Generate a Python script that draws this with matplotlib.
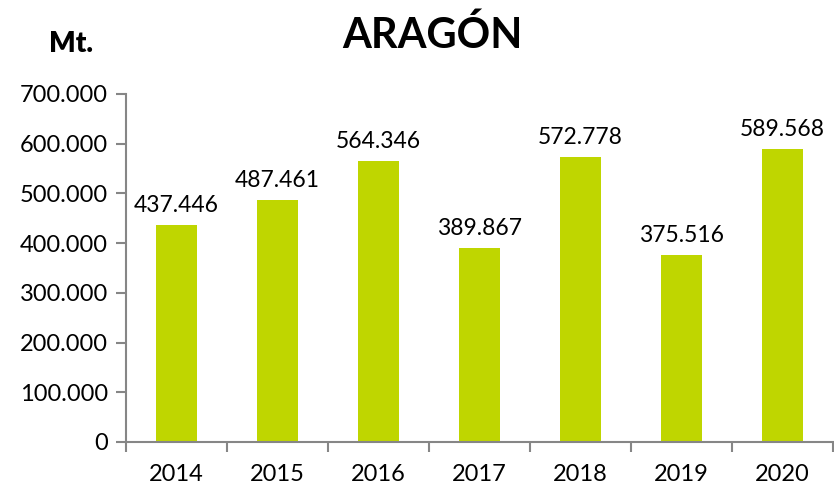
import matplotlib.pyplot as plt
from matplotlib.ticker import FuncFormatter, FixedLocator

years = ['2014', '2015', '2016', '2017', '2018', '2019', '2020']
values = [437446, 487461, 564346, 389867, 572778, 375516, 589568]

plt.rcParams['font.family'] = ['Lato', 'DejaVu Sans']

def fmt(v):
    return '{:,.0f}'.format(v).replace(',', '.')

fig = plt.figure(figsize=(8.34, 4.91), dpi=100)
ax = fig.add_axes([126/834, 1-442/491, (833-126)/834, (442-94)/491])

x = range(len(years))
ax.bar(x, values, width=0.4, color='#BFD600')
for xi, v in zip(x, values):
    ax.text(xi, v + 18000, fmt(v), ha='center', va='bottom', fontsize=16.5)

ax.set_xlim(-0.5, len(years) - 0.5)
ax.set_ylim(0, 700000)
ax.set_yticks(range(0, 700001, 100000))
ax.yaxis.set_major_formatter(FuncFormatter(lambda v, p: fmt(v)))
ax.set_xticks(list(x))
ax.set_xticklabels(years)
ax.xaxis.set_minor_locator(FixedLocator([i - 0.5 for i in range(len(years) + 1)]))
ax.tick_params(axis='x', which='major', length=0, pad=16, labelsize=17)
ax.tick_params(axis='x', which='minor', length=7, color='#868686', width=1.5)
ax.tick_params(axis='y', length=7, color='#868686', width=1.5, labelsize=17, pad=6)

for s in ['top', 'right']:
    ax.spines[s].set_visible(False)
for s in ['left', 'bottom']:
    ax.spines[s].set_color('#868686')
    ax.spines[s].set_linewidth(1.5)

fig.text(432/834, 1-35/491, 'ARAGÓN', ha='center', va='center', fontsize=30, fontweight='bold')
fig.text(71/834, 1-44/491, 'Mt.', ha='center', va='center', fontsize=20, fontweight='heavy')

fig.savefig('out.png', dpi=100)
